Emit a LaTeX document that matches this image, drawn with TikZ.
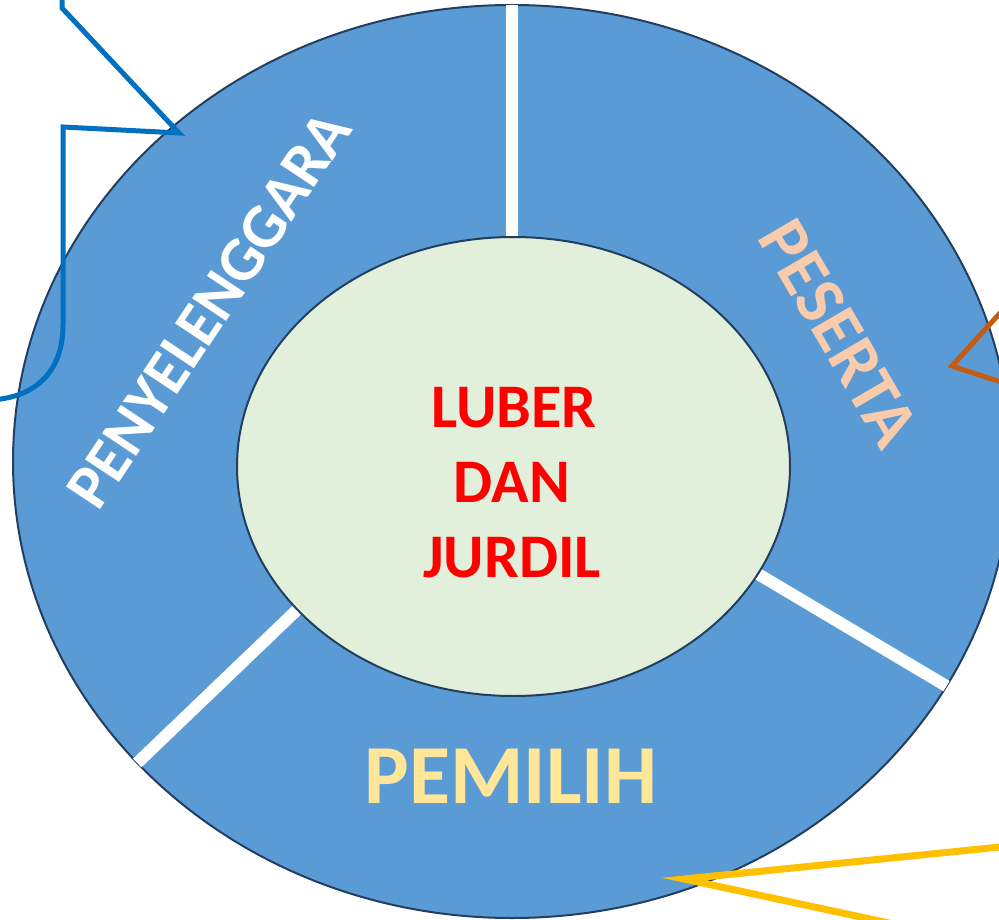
\documentclass[tikz,border=0pt]{standalone}
\usepackage{fontspec}
\setmainfont{Carlito}
\definecolor{ringblue}{HTML}{5B9BD5}
\definecolor{edge}{HTML}{223F5F}
\definecolor{core}{HTML}{E2EFDA}
\definecolor{peach}{HTML}{F8CBAD}
\definecolor{lightyellow}{HTML}{FFE699}
\definecolor{callblue}{HTML}{0070C0}
\definecolor{callorange}{HTML}{C55A11}
\definecolor{callyellow}{HTML}{FFC000}
\tikzset{
  divider/.style={draw=white,line width=12pt,line cap=butt},
  ringlabel/.style={inner sep=0pt,font=\bfseries\fontsize{63}{63}\selectfont},
  corelabel/.style={inner sep=0pt,anchor=base,text=red,font=\bfseries\fontsize{62}{62}\selectfont},
  callout/.style={line width=5pt,line join=miter,fill=none}
}
\begin{document}
\begin{tikzpicture}[x=1pt,y=-1pt]
\useasboundingbox (0,0) rectangle (999,920);
\clip (0,0) rectangle (999,920);
% outer ring
\draw[fill=ringblue,draw=edge,line width=2pt] (512,461.5) ellipse[x radius=499,y radius=456.5];
% dividers
\coordinate (t1) at (512,239);
\coordinate (t2) at (512,4);
\coordinate (l1) at (299,608);
\coordinate (l2) at (133,767);
\coordinate (r1) at (758,574);
\coordinate (r2) at (948,687);
\begin{scope}
\clip (512,461.5) ellipse[x radius=499,y radius=456.5];
\draw[divider] (t1) -- (t2);
\draw[divider] (l1) -- (l2);
\draw[divider] (r1) -- (r2);
\end{scope}
% core
\draw[fill=core,draw=edge,line width=2pt] (513.5,466.5) ellipse[x radius=276.5,y radius=229.5];
% labels
\node[ringlabel,text=white,rotate=56.4] (peny) at (209,310) {PENYELENGGARA};
\node[ringlabel,text=peach,rotate=-59.7,font=\bfseries\fontsize{70}{70}\selectfont] (pes) at (839,333) {PESERTA};
\node[inner sep=0pt,anchor=base,text=lightyellow,font=\bfseries\fontsize{84}{84}\selectfont] (pem) at (511,803) {PEMILIH};
\node[corelabel] (c1) at (514,427) {LUBER};
\node[corelabel] (c2) at (512,502) {DAN};
\node[corelabel] (c3) at (512,577) {JURDIL};
% callout fragments
\coordinate (b0) at (62,-10);
\coordinate (b1) at (62,8);
\coordinate (b2) at (179,133);
\coordinate (b3) at (63,127);
\coordinate (b4) at (63,325);
\coordinate (b5) at (-10,400);
\draw[callout,draw=callblue] (b0) -- (b1) -- (b2) -- (b3) -- (b4) .. controls (63,372) and (35,398) .. (b5);
\coordinate (o0) at (1010,302);
\coordinate (o1) at (952,366);
\coordinate (o2) at (1010,385);
\draw[callout,draw=callorange] (o0) -- (o1) -- (o2);
\coordinate (y0) at (1010,846);
\coordinate (y1) at (684,879);
\coordinate (y2) at (912,928);
\draw[callout,draw=callyellow,line width=7pt] (y0) -- (y1) -- (y2);
\end{tikzpicture}
\end{document}
